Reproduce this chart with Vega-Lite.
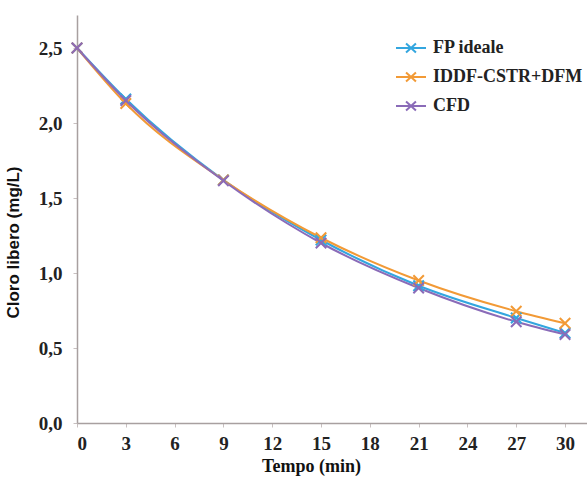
{
  "$schema": "https://vega.github.io/schema/vega-lite/v6.json",
  "autosize": {"type": "none"},
  "width": 510,
  "height": 408,
  "padding": {"left": 77, "top": 15, "right": 0, "bottom": 59},
  "background": "white",
  "data": {
    "values": [
      {"serie": "FP ideale", "t": 0, "c": 2.50},
      {"serie": "FP ideale", "t": 3, "c": 2.16},
      {"serie": "FP ideale", "t": 9, "c": 1.62},
      {"serie": "FP ideale", "t": 15, "c": 1.22},
      {"serie": "FP ideale", "t": 21, "c": 0.915},
      {"serie": "FP ideale", "t": 27, "c": 0.70},
      {"serie": "FP ideale", "t": 30, "c": 0.60},
      {"serie": "IDDF-CSTR+DFM", "t": 0, "c": 2.50},
      {"serie": "IDDF-CSTR+DFM", "t": 3, "c": 2.13},
      {"serie": "IDDF-CSTR+DFM", "t": 9, "c": 1.62},
      {"serie": "IDDF-CSTR+DFM", "t": 15, "c": 1.235},
      {"serie": "IDDF-CSTR+DFM", "t": 21, "c": 0.95},
      {"serie": "IDDF-CSTR+DFM", "t": 27, "c": 0.745},
      {"serie": "IDDF-CSTR+DFM", "t": 30, "c": 0.665},
      {"serie": "CFD", "t": 0, "c": 2.50},
      {"serie": "CFD", "t": 3, "c": 2.15},
      {"serie": "CFD", "t": 9, "c": 1.615},
      {"serie": "CFD", "t": 15, "c": 1.20},
      {"serie": "CFD", "t": 21, "c": 0.90},
      {"serie": "CFD", "t": 27, "c": 0.675},
      {"serie": "CFD", "t": 30, "c": 0.59}
    ]
  },
  "encoding": {
    "x": {
      "field": "t", "type": "quantitative",
      "scale": {"domain": [0, 31.35], "nice": false},
      "axis": {
        "title": "Tempo (min)",
        "values": [0, 3, 6, 9, 12, 15, 18, 21, 24, 27, 30],
        "grid": false,
        "tickSize": 4,
        "labelPadding": 7,
        "titlePadding": 4,
        "titleX": 234,
        "titleFontSize": 18
      }
    },
    "y": {
      "field": "c", "type": "quantitative",
      "scale": {"domain": [0, 2.72], "nice": false},
      "axis": {
        "title": "Cloro libero (mg/L)",
        "values": [0, 0.5, 1, 1.5, 2, 2.5],
        "labelExpr": "replace(format(datum.value, '.1f'), '.', ',')",
        "grid": false,
        "tickSize": 4,
        "labelPadding": 11,
        "titlePadding": 16,
        "titleY": 227,
        "titleFont": "Liberation Sans",
        "titleFontSize": 17
      }
    },
    "color": {
      "field": "serie", "type": "nominal",
      "scale": {
        "domain": ["FP ideale", "IDDF-CSTR+DFM", "CFD"],
        "range": ["#33a6df", "#f29a36", "#8a6bb8"]
      },
      "legend": {
        "title": null,
        "orient": "none",
        "legendX": 318,
        "legendY": 17,
        "symbolType": "M-1,0L1,0M-0.33,-0.3L0.33,0.3M-0.33,0.3L0.33,-0.3",
        "symbolSize": 900,
        "symbolStrokeWidth": 2,
        "symbolFillColor": "transparent",
        "labelOffset": 6,
        "rowPadding": 4,
        "labelFont": "Liberation Serif",
        "labelFontWeight": "bold",
        "labelFontSize": 18,
        "labelColor": "#222222"
      }
    }
  },
  "layer": [
    {
      "mark": {"type": "line", "interpolate": "monotone", "strokeWidth": 2}
    },
    {
      "mark": {
        "type": "point",
        "shape": "M-1,-1L1,1M-1,1L1,-1",
        "filled": false,
        "size": 110,
        "strokeWidth": 2,
        "opacity": 1
      }
    }
  ],
  "config": {
    "view": {"stroke": null},
    "axis": {
      "domainColor": "#a8a0a0",
      "tickColor": "#c8c0c0",
      "domainWidth": 1.5,
      "labelFont": "Liberation Serif",
      "labelFontWeight": "bold",
      "labelFontSize": 19,
      "labelColor": "#222222",
      "titleFont": "Liberation Serif",
      "titleFontWeight": "bold",
      "titleFontSize": 18,
      "titleColor": "#111111"
    }
  }
}
